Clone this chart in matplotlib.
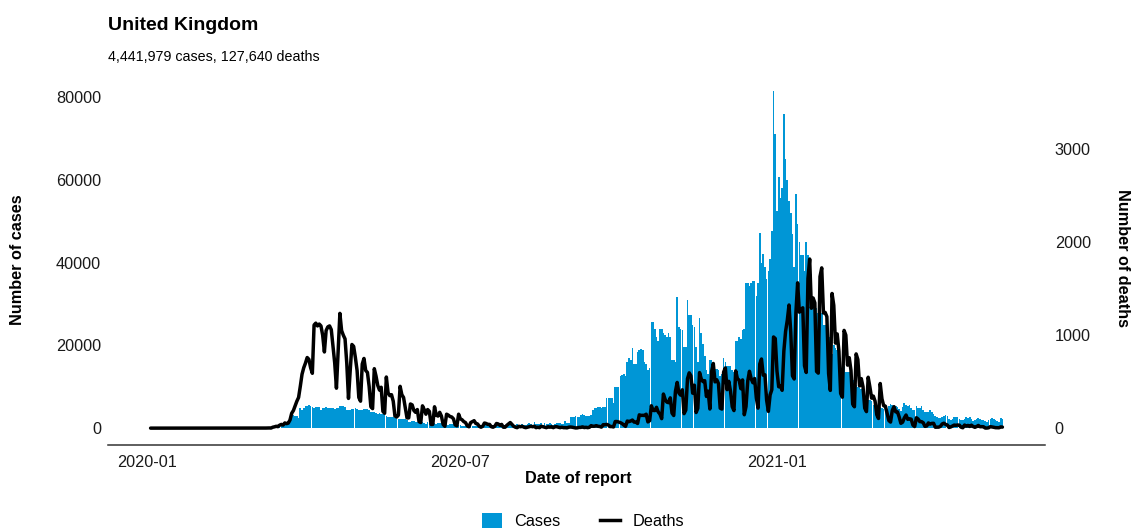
import datetime as dt
import matplotlib
matplotlib.use("Agg")
import matplotlib.pyplot as plt
import matplotlib.dates as mdates
from matplotlib.patches import Patch
from matplotlib.lines import Line2D
import numpy as np
import pandas as pd

plt.rcParams['font.family'] = ['Liberation Sans', 'DejaVu Sans']

# Daily values, one list per month (first day: 2020-01-03)
cases_2020_01 = [0] * 28 + [2]
deaths_2020_01 = [0] * 29
cases_2020_02 = [0] * 8 + [1, 4] + [0] * 14 + [4, 0, 2, 5, 3]
deaths_2020_02 = [0] * 29
cases_2020_03 = [13, 4, 11, 34, 30, 48, 43, 67, 48, 50, 83, 134, 208, 342, 251, 152, 407,
                 676, 643, 714, 1035, 665, 967, 1427, 2900, 3100, 3000, 2900, 2500, 4800, 4500]
deaths_2020_03 = [0, 0, 0, 0, 1, 0, 1, 0, 1, 1, 2, 2, 1, 10, 14, 20, 16,
                  32, 40, 33, 56, 48, 54, 87, 160, 190, 240, 290, 330, 450, 580]
cases_2020_04 = [4800, 5300, 5400, 5500, 5300, 5100, 4800, 5200, 5200, 5200, 4500, 4900, 4800, 5000, 4900,
                 4900, 4900, 4800, 4700, 4800, 4900, 5300, 5300, 5300, 5200, 4400, 4300, 4500, 4700, 4600]
deaths_2020_04 = [650, 700, 760, 740, 650, 590, 1110, 1130, 1100, 1120, 1100, 1000, 820, 1050, 1090,
                  1100, 1060, 880, 700, 430, 820, 1235, 1050, 1000, 960, 700, 320, 620, 900, 880]
cases_2020_05 = [4800, 4700, 4500, 4400, 4300, 4600, 4600, 4700, 4500, 3900, 3900, 3800, 3600, 3500, 3600, 3500,
                 3400, 3200, 3000, 2700, 2600, 2600, 2600, 2500, 2400, 2300, 2200, 2300, 2200, 2100, 2000]
deaths_2020_05 = [760, 620, 330, 290, 690, 750, 620, 600, 450, 230, 210, 640, 560, 460, 410, 440,
                  180, 160, 550, 380, 350, 360, 290, 130, 120, 140, 450, 360, 330, 220, 110]
cases_2020_06 = [1600, 1600, 1800, 1700, 1600, 1500, 1300, 1200, 1400, 1200, 1100, 1400, 1300, 1200, 1100,
                 1200, 1100, 1200, 1200, 1300, 1100, 1000, 950, 700, 1100, 1000, 900, 900, 800, 700]
deaths_2020_06 = [110, 260, 250, 190, 170, 200, 70, 60, 240, 200, 150, 200, 180, 40, 40,
                  230, 140, 130, 170, 130, 40, 20, 150, 140, 125, 120, 100, 35, 25, 150]
cases_2020_07 = [800, 600, 570, 620, 500, 350, 580, 580, 630, 510, 820, 650, 530, 650, 540, 640,
                 600, 690, 830, 580, 640, 560, 450, 770, 880, 760, 750, 600, 580, 760, 880]
deaths_2020_07 = [100, 90, 70, 60, 25, 15, 60, 70, 80, 50, 45, 20, 10, 20, 55, 50,
                  40, 40, 15, 10, 20, 50, 45, 30, 40, 10, 10, 30, 45, 60, 40]
cases_2020_08 = [740, 740, 940, 670, 870, 950, 760, 760, 1060, 1150, 1020, 800, 1440, 1040, 1080, 1010,
                 1180, 810, 1180, 1050, 1030, 1290, 1050, 850, 1040, 1180, 1250, 1160, 1020, 1110, 1720]
deaths_2020_08 = [20, 10, 5, 20, 15, 20, 10, 5, 10, 15, 20, 15, 20, 5, 10, 5,
                  20, 15, 10, 5, 15, 10, 15, 5, 15, 15, 10, 5, 10, 5, 5]
cases_2020_09 = [1300, 1300, 2800, 2700, 2700, 2900, 2800, 2700, 3200, 3400, 3100, 3000, 3000, 3000, 3100,
                 4500, 4800, 4800, 5000, 5000, 4900, 5000, 5100, 7300, 7300, 7300, 7200, 6000, 10000, 10000]
deaths_2020_09 = [3, 10, 12, 10, 6, 2, 3, 8, 8, 14, 6, 9, 5, 9, 27,
                  20, 21, 27, 20, 18, 11, 37, 37, 40, 34, 17, 17, 13, 71, 71]
cases_2020_10 = [10000, 12500, 12800, 13000, 12600, 16000, 17000, 16500, 19500, 15600, 15400, 18500, 19000,
                 19200, 19000, 16000, 15500, 14000, 14500, 25600, 25600, 24000, 22000, 21000, 24000, 24100,
                 23000, 22500, 22000, 23000, 22000]
deaths_2020_10 = [66, 59, 49, 33, 19, 76, 70, 77, 87, 65, 65, 50, 143, 137, 138, 136,
                  150, 67, 80, 241, 191, 189, 224, 174, 151, 102, 367, 310, 280, 274, 326]
cases_2020_11 = [16400, 16400, 16000, 31700, 24500, 24000, 23700, 19600, 19600, 30900, 27300, 27300, 25000,
                 24400, 19600, 16000, 26600, 23000, 20400, 17500, 14000, 13000, 16400, 16400, 14400, 14400,
                 14400, 14000, 12500, 13000]
deaths_2020_11 = [162, 136, 397, 492, 378, 355, 413, 156, 194, 532, 595, 563, 376, 462, 168,
                  213, 598, 529, 501, 511, 341, 398, 206, 608, 696, 498, 521, 479, 215, 205]
cases_2020_12 = [17000, 16000, 15000, 15000, 15000, 14000, 13500, 21000, 21000, 22000, 21500, 23700, 24000,
                 35000, 35000, 34500, 35000, 35700, 35700, 32000, 35000, 47300, 40000, 42200, 39000, 36000,
                 38000, 41000, 47800, 81600, 71200]
deaths_2020_12 = [603, 648, 414, 504, 397, 231, 189, 616, 533, 516, 424, 519, 144, 232, 506, 612,
                  532, 489, 534, 326, 215, 691, 744, 570, 574, 300, 180, 357, 414, 981, 964]
cases_2021_01 = [52600, 60700, 55800, 58000, 76000, 65200, 60000, 55000, 52000, 47000, 39000, 56700, 49500,
                 45000, 42000, 42000, 38000, 45000, 42000, 37400, 37400, 31000, 30000, 29000, 27800, 27800,
                 27800, 25000, 25000, 25000, 22500]
deaths_2021_01 = [613, 445, 454, 407, 830, 1041, 1162, 1325, 1035, 563, 529, 1243, 1564, 1248, 1280, 1295,
                  671, 599, 1610, 1820, 1290, 1401, 1348, 610, 592, 1631, 1725, 1239, 1245, 1200, 587]
cases_2021_02 = [22000, 18000, 20000, 19500, 19000, 18500, 17000, 15500, 15000, 13500, 13500, 13500, 12000,
                 11600, 11600, 10500, 10000, 9800, 9500, 9500, 7000, 6800, 6800, 6800, 6500, 5500, 5500, 5000]
deaths_2021_02 = [406, 1449, 1322, 915, 1014, 828, 373, 333, 1052, 1001, 678, 758, 621, 258,
                  230, 799, 738, 454, 533, 445, 215, 178, 548, 442, 323, 345, 290, 144]
cases_2021_03 = [4500, 5000, 4800, 4600, 4200, 4000, 5400, 5800, 5600, 5200, 5400, 5100, 4600, 4100, 5100,
                 6200, 5700, 5400, 5600, 4900, 4500, 4300, 5300, 4900, 4800, 5300, 4500, 3800, 3900, 4000, 4400]
deaths_2021_03 = [104, 480, 315, 242, 236, 158, 82, 65, 190, 231, 175, 175, 121, 52, 64, 110,
                  141, 95, 101, 96, 33, 17, 112, 98, 70, 70, 58, 19, 23, 56, 43]
cases_2021_04 = [4000, 3400, 3000, 2800, 2500, 2400, 2600, 3000, 3100, 2900, 2200, 2000, 2200, 2800, 2700,
                 2600, 2300, 1900, 2000, 2300, 2600, 2500, 2600, 2100, 1700, 1900, 2100, 2400, 2300, 2000]
deaths_2021_04 = [51, 52, 10, 10, 11, 20, 45, 53, 40, 34, 7, 13, 23, 33, 30,
                  34, 32, 10, 4, 33, 22, 29, 18, 32, 17, 9, 17, 29, 15, 16]
cases_2021_05 = [1900, 1700, 1600, 2000, 2300, 2500, 2300, 2000, 1800, 1600, 2400, 2300]
deaths_2021_05 = [15, 1, 1, 4, 16, 13, 9, 5, 5, 4, 13, 11]

start_date = "2020-01-03"
tick_dates = ["2020-01-01", "2020-07-01", "2021-01-01"]
tick_labels = ["2020-01", "2020-07", "2021-01"]
case_ticks = [0, 20000, 40000, 60000, 80000]
death_ticks = [0, 1000, 2000, 3000]

cases = np.array(cases_2020_01 + cases_2020_02 + cases_2020_03 + cases_2020_04 + cases_2020_05
                 + cases_2020_06 + cases_2020_07 + cases_2020_08 + cases_2020_09 + cases_2020_10
                 + cases_2020_11 + cases_2020_12 + cases_2021_01 + cases_2021_02 + cases_2021_03
                 + cases_2021_04 + cases_2021_05)
deaths = np.array(deaths_2020_01 + deaths_2020_02 + deaths_2020_03 + deaths_2020_04 + deaths_2020_05
                  + deaths_2020_06 + deaths_2020_07 + deaths_2020_08 + deaths_2020_09 + deaths_2020_10
                  + deaths_2020_11 + deaths_2020_12 + deaths_2021_01 + deaths_2021_02 + deaths_2021_03
                  + deaths_2021_04 + deaths_2021_05)
dates = pd.date_range(start_date, periods=len(cases), freq="D")

BLUE = "#0096d6"
W, H = 1131, 528

fig = plt.figure(figsize=(W / 100, H / 100), dpi=100)
ax = fig.add_axes([108 / W, 1 - 445 / H, 937 / W, 371 / H])

x = mdates.date2num(dates.to_pydatetime())
ax.bar(x, cases, width=0.96, color=BLUE, linewidth=0)
span = x[-1] - x[0]
ax.set_xlim(x[0] - 0.05 * span, x[-1] + 0.05 * span)
cmax = cases.max()
ax.set_ylim(-0.05 * cmax, 1.05 * cmax)

# secondary axis for deaths (scaled against cases)
ratio = 22.48
ax2 = ax.twinx()
ax2.plot(x, deaths, color="black", lw=2.5, solid_joinstyle="round", solid_capstyle="round")
ax2.set_ylim(-0.05 * cmax / ratio, 1.05 * cmax / ratio)

ax.set_xticks(mdates.date2num([dt.datetime.fromisoformat(d) for d in tick_dates]))
ax.set_xticklabels(tick_labels)
ax.set_yticks(case_ticks)
ax.set_yticklabels([str(v) for v in case_ticks])
ax2.set_yticks(death_ticks)
ax2.set_yticklabels([str(v) for v in death_ticks])

for s in ["top", "left", "right"]:
    ax.spines[s].set_visible(False)
for s in ax2.spines.values():
    s.set_visible(False)
ax.spines["bottom"].set_color("#333333")
ax.spines["bottom"].set_linewidth(1.1)

ax.tick_params(axis="x", length=0, labelsize=11.7, pad=7, colors="#1a1a1a")
ax.tick_params(axis="y", length=0, labelsize=11.7, pad=5, colors="#1a1a1a")
ax2.tick_params(axis="y", length=0, labelsize=11.7, pad=7, colors="#1a1a1a")

fig.text(108 / W, 1 - 25 / H, "United Kingdom", fontsize=14, fontweight="bold", ha="left", va="center")
fig.text(108 / W, 1 - 57 / H, "4,441,979 cases, 127,640 deaths", fontsize=10.3, ha="left", va="center")
fig.text(18 / W, 1 - 260 / H, "Number of cases", fontsize=11.7, fontweight="bold",
         rotation=90, ha="center", va="center")
fig.text(1123 / W, 1 - 258 / H, "Number of deaths", fontsize=11.7, fontweight="bold",
         rotation=270, ha="center", va="center")
fig.text(578 / W, 1 - 478 / H, "Date of report", fontsize=11.7, fontweight="bold", ha="center", va="center")

handles = [Patch(facecolor=BLUE, edgecolor="none"), Line2D([], [], color="black", lw=2.5)]
fig.legend(handles, ["Cases", "Deaths"], loc="center", bbox_to_anchor=(583 / W, 1 - 521 / H),
           ncol=2, frameon=False, fontsize=11.7, handlelength=1.23, handleheight=1.2,
           handletextpad=0.74, columnspacing=2.46)

fig.savefig("out.png", dpi=100)
